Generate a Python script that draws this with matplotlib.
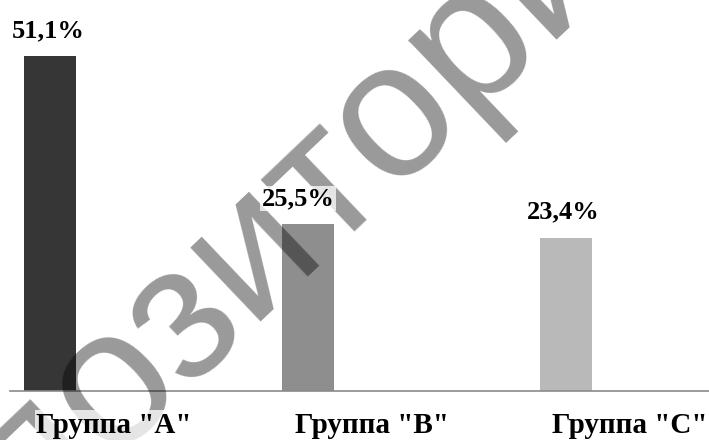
import numpy as np
import matplotlib.pyplot as plt

# Distribution of respondents by group, %
groups = ['Группа "A"', 'Группа "B"', 'Группа "C"']
shares = [51.1, 25.5, 23.4]
value_labels = ['51,1%', '25,5%', '23,4%']
bar_colors = ['#363636', '#8e8e8e', '#b9b9b9']

fig = plt.figure(figsize=(7.09, 4.40), dpi=100)
ax = fig.add_axes([10 / 709, 49 / 440, 699 / 709, 391 / 440])

x = np.arange(len(groups))
ax.bar(x, shares, width=0.2, color=bar_colors, zorder=2)
ax.set_xlim(-0.155, 2.554)
ax.set_ylim(0, 59.65)

# only the baseline is kept
for side in ['top', 'right', 'left']:
    ax.spines[side].set_visible(False)
ax.spines['bottom'].set_color('#8a8a8a')
ax.spines['bottom'].set_linewidth(1.2)
ax.set_yticks([])

# category captions sit a bit to the right of the bars
ax.set_xticks(x + 0.247)
ax.set_xticklabels(groups, fontsize=21, fontweight='bold', family='Liberation Serif')
ax.tick_params(axis='x', length=0, pad=15)
for t in ax.get_xticklabels():
    t.set_bbox(dict(facecolor='white', alpha=0.75, edgecolor='none', pad=1))
ax.xaxis.set_zorder(6)

# value labels above the bars
text_dx = [-2, -10, -3]
for i, (v, lab) in enumerate(zip(shares, value_labels)):
    ax.annotate(lab, (x[i], v), xytext=(text_dx[i], 19), textcoords='offset pixels',
                ha='center', va='baseline', fontsize=19, fontweight='bold',
                family='Liberation Serif', zorder=6,
                bbox=dict(facecolor='white', alpha=0.75, edgecolor='none', pad=1))

# repository watermark across the chart (over the bars, under the labels)
ax.text(283 / 709, 1 - 286 / 440, 'Репозиторий', transform=fig.transFigure,
        rotation=43.6, rotation_mode='anchor', ha='center', va='baseline',
        fontsize=139, family='Liberation Sans', color='black', alpha=0.4,
        zorder=5, clip_on=False)

fig.savefig('out.png', dpi=100)
